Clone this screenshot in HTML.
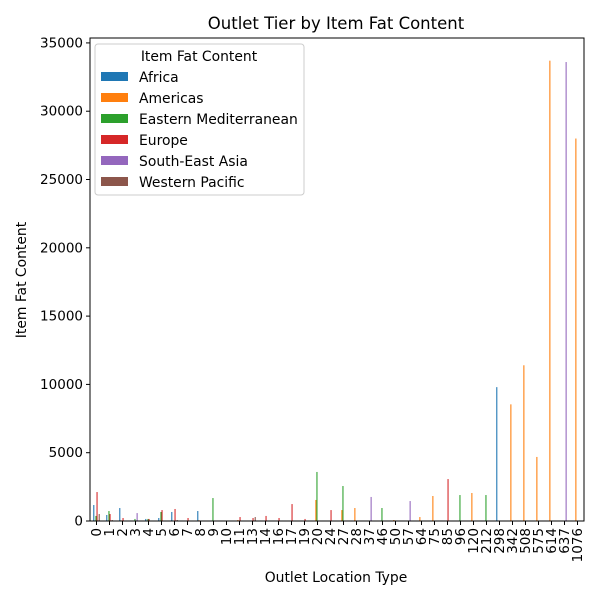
<!DOCTYPE html>
<html><head><meta charset="utf-8"><style>body{margin:0;background:#fff}svg{font-family:"DejaVu Sans","Liberation Sans",sans-serif}</style></head>
<body>
<svg id="chart" width="600" height="600" xmlns="http://www.w3.org/2000/svg"></svg>
<script>
const categories=["0","1","2","3","4","5","6","7","8","9","10","11","13","14","16","17","19","20","24","27","28","37","46","50","57","64","75","85","96","120","212","298","342","508","575","614","637","1076"];
const seriesNames=["Africa","Americas","Eastern Mediterranean","Europe","South-East Asia","Western Pacific"];
const colors=["#1f77b4","#ff7f0e","#2ca02c","#d62728","#9467bd","#8c564b"];
const africa={"0":1170,"1":440,"2":950,"4":150,"5":220,"6":660,"8":730,"298":9800};
const americas={"2":50,"8":60,"11":70,"20":1540,"27":800,"28":950,"50":70,"64":290,"75":1830,"120":2050,"342":8540,"508":11400,"575":4690,"614":33700,"1076":28000};
const eastMed={"0":370,"1":730,"3":150,"4":150,"5":660,"9":1680,"20":3590,"27":2560,"46":950,"96":1900,"212":1900};
const europe={"0":2120,"1":510,"2":220,"4":150,"5":800,"6":880,"7":220,"11":290,"13":220,"14":370,"16":220,"17":1240,"19":150,"24":800,"85":3070};
const seAsia={"3":580,"37":1760,"57":1460,"637":33600};
const westPac={"0":510,"1":70,"6":70,"13":290};
const series=[africa,americas,eastMed,europe,seAsia,westPac];
const yTicks=[0,5000,10000,15000,20000,25000,30000,35000];
const NS="http://www.w3.org/2000/svg",svg=document.getElementById('chart');
const L=90,R=584,T=38,B=521,yMax=35360;
const step=(R-L)/categories.length;
const x=i=>L+step*(i+0.5);
const y=v=>B-(v/yMax)*(B-T);
function mk(t,a,p){const e=document.createElementNS(NS,t);for(const k in a)e.setAttribute(k,a[k]);(p||svg).appendChild(e);return e;}
const bw=step*0.5/6;
series.forEach((s,si)=>{categories.forEach((c,ci)=>{const v=s[c]||0;if(!v)return;
const r=mk('rect',{x:x(ci)-step*0.25+si*bw,y:y(v),width:bw,height:B-y(v),fill:colors[si]});

});});
const frame=mk('rect',{x:L,y:T,width:R-L,height:B-T,fill:'none',stroke:'#000','stroke-width':1});

yTicks.forEach(v=>{mk('line',{x1:L-4,x2:L,y1:y(v),y2:y(v),stroke:'#000'});
const t=mk('text',{x:L-7,y:y(v)+4.5,'text-anchor':'end','font-size':13.5});t.textContent=v;
});
categories.forEach((c,i)=>{mk('line',{x1:x(i),x2:x(i),y1:B,y2:B+4,stroke:'#000'});
const t=mk('text',{transform:`translate(${x(i)+4.5},${B+7}) rotate(-90)`,'text-anchor':'end','font-size':13.5});t.textContent=c;
});
let t=mk('text',{x:336,y:29,'text-anchor':'middle','font-size':16.5});t.textContent='Outlet Tier by Item Fat Content';

t=mk('text',{x:336,y:582,'text-anchor':'middle','font-size':13.9});t.textContent='Outlet Location Type';

t=mk('text',{transform:'translate(26,280) rotate(-90)','text-anchor':'middle','font-size':13.9});t.textContent='Item Fat Content';

const lg=mk('g',{});
mk('rect',{x:95,y:44,width:209,height:151,rx:3,fill:'#fff','fill-opacity':0.8,stroke:'#ccc'},lg);
t=mk('text',{x:199,y:61,'text-anchor':'middle','font-size':13.9},lg);t.textContent='Item Fat Content';
seriesNames.forEach((n,i)=>{const g=mk('g',{},lg);
mk('rect',{x:101,y:72+i*21,width:27,height:9,fill:colors[i]},g);
const tt=mk('text',{x:139,y:82+i*21,'font-size':13.9},g);tt.textContent=n;});
</script>
</body></html>
